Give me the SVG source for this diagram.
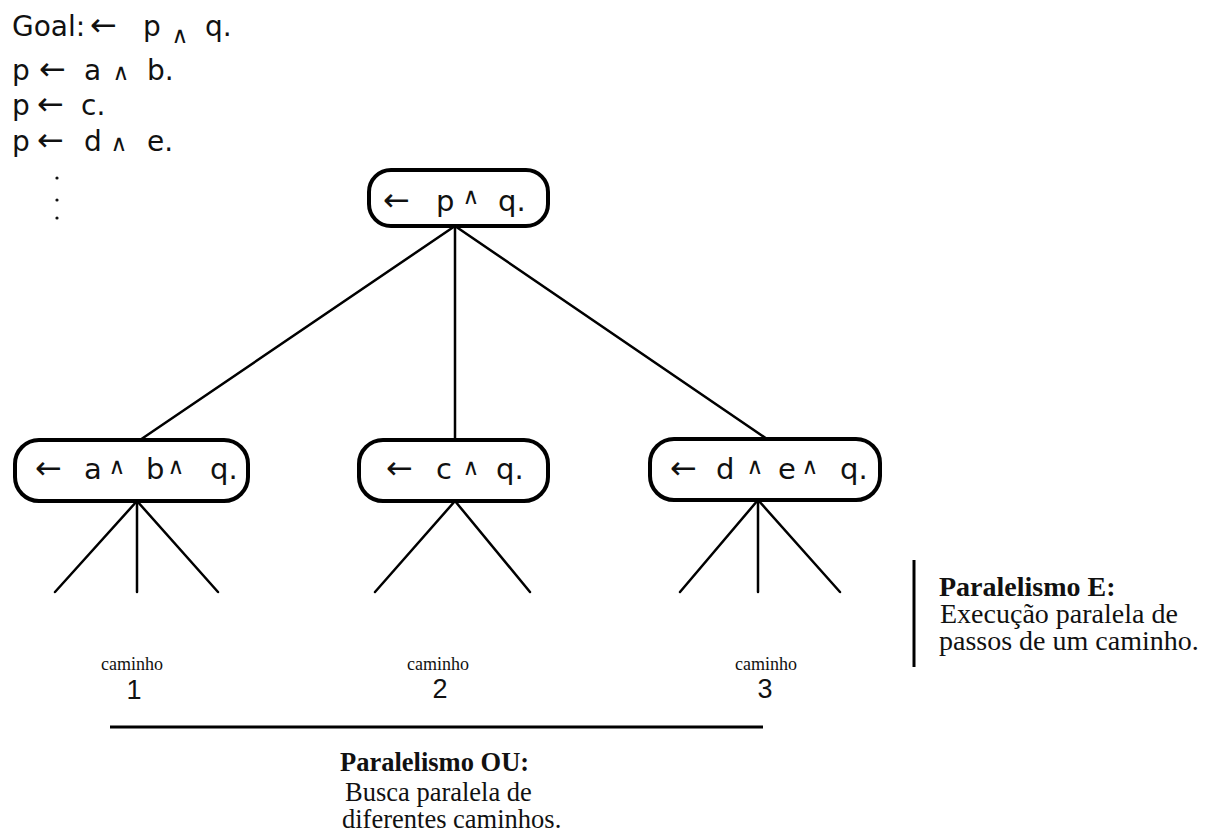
<svg xmlns="http://www.w3.org/2000/svg" width="1213" height="832" viewBox="0 0 1213 832">
  <style>
    .sans { font-family: "DejaVu Sans", "Liberation Sans", sans-serif; fill: #111; }
    .ar { font-family: "DejaVu Sans", sans-serif; font-size: 32px; }
    .op { font-family: "DejaVu Sans", sans-serif; fill: #111; font-size: 23px; text-anchor: middle; }
    .prog { font-size: 28px; }
    .goal { font-size: 29px; }
    .box { fill: #fff; stroke: #000; stroke-width: 4; }
    .edge { stroke: #000; stroke-width: 2.5; fill: none; stroke-linecap: round; }
    .rule { stroke: #000; stroke-width: 3; }
    .serif { font-family: "Liberation Serif", "Times New Roman", serif; fill: #111; }
    .lbl { font-size: 18px; text-anchor: middle; }
    .num { font-family: "Liberation Sans", sans-serif; font-size: 27px; text-anchor: middle; }
    .head { font-weight: bold; }
    .note { font-size: 26.5px; }
    .note-e { font-size: 28px; }
  </style>
  <rect width="1213" height="832" fill="#fff"/>

  <!-- program clauses -->
  <g id="program" class="sans prog">
    <text y="36"><tspan x="12">Goal:</tspan><tspan class="ar" x="90">←</tspan><tspan x="143">p</tspan><tspan x="205">q.</tspan></text>
    <text class="op" x="180" y="43">∧</text>
    <text y="80"><tspan x="12">p</tspan><tspan class="ar" x="39">←</tspan><tspan x="84">a</tspan><tspan x="147">b.</tspan></text>
    <text class="op" x="121" y="80">∧</text>
    <text y="115"><tspan x="12">p</tspan><tspan class="ar" x="37">←</tspan><tspan x="81">c.</tspan></text>
    <text y="151"><tspan x="12">p</tspan><tspan class="ar" x="37">←</tspan><tspan x="84">d</tspan><tspan x="147">e.</tspan></text>
    <text class="op" x="119" y="151">∧</text>
    <circle cx="57" cy="178" r="1.6" fill="#111"/>
    <circle cx="57" cy="200" r="1.6" fill="#111"/>
    <circle cx="57" cy="218" r="1.6" fill="#111"/>
  </g>

  <!-- tree edges -->
  <g id="connectors">
    <line class="edge" x1="455" y1="226" x2="140" y2="440"/>
    <line class="edge" x1="455" y1="226" x2="455" y2="440"/>
    <line class="edge" x1="455" y1="226" x2="767" y2="439"/>
    <line class="edge" x1="137" y1="501" x2="55" y2="592"/>
    <line class="edge" x1="137" y1="501" x2="137" y2="592"/>
    <line class="edge" x1="137" y1="501" x2="218" y2="592"/>
    <line class="edge" x1="455" y1="501" x2="375" y2="592"/>
    <line class="edge" x1="455" y1="501" x2="530" y2="592"/>
    <line class="edge" x1="758" y1="500" x2="680" y2="592"/>
    <line class="edge" x1="758" y1="500" x2="758" y2="592"/>
    <line class="edge" x1="758" y1="500" x2="840" y2="592"/>
  </g>

  <!-- root goal -->
  <g id="node-root">
    <rect class="box" x="369" y="170" width="179" height="56" rx="22"/>
    <text class="sans goal" y="211"><tspan class="ar" x="383">←</tspan><tspan x="436">p</tspan><tspan x="498">q.</tspan></text>
    <text class="op" x="471" y="204">∧</text>
  </g>

  <!-- resolvent with p ← a ∧ b -->
  <g id="node-ab">
    <rect class="box" x="15" y="440" width="233" height="61" rx="24"/>
    <text class="sans goal" y="479"><tspan class="ar" x="35">←</tspan><tspan x="84">a</tspan><tspan x="146">b</tspan><tspan x="210">q.</tspan></text>
    <text class="op" x="117" y="474">∧</text>
    <text class="op" x="176" y="474">∧</text>
  </g>

  <!-- resolvent with p ← c -->
  <g id="node-c">
    <rect class="box" x="359" y="440" width="189" height="61" rx="24"/>
    <text class="sans goal" y="479"><tspan class="ar" x="386">←</tspan><tspan x="436">c</tspan><tspan x="496">q.</tspan></text>
    <text class="op" x="471" y="475">∧</text>
  </g>

  <!-- resolvent with p ← d ∧ e -->
  <g id="node-de">
    <rect class="box" x="650" y="439" width="230" height="61" rx="24"/>
    <text class="sans goal" y="479"><tspan class="ar" x="670">←</tspan><tspan x="716">d</tspan><tspan x="778">e</tspan><tspan x="840">q.</tspan></text>
    <text class="op" x="755" y="474">∧</text>
    <text class="op" x="810" y="474">∧</text>
  </g>

  <!-- path labels -->
  <g id="path-1">
    <text class="serif lbl" x="132" y="670">caminho</text>
    <text class="sans num" x="134" y="699">1</text>
  </g>
  <g id="path-2">
    <text class="serif lbl" x="438" y="670">caminho</text>
    <text class="sans num" x="440" y="698">2</text>
  </g>
  <g id="path-3">
    <text class="serif lbl" x="766" y="670">caminho</text>
    <text class="sans num" x="765" y="698">3</text>
  </g>

  <!-- OR-parallelism note -->
  <g id="note-or">
    <line class="rule" x1="110" y1="727" x2="763" y2="727"/>
    <text class="serif head note" x="340" y="771">Paralelismo OU:</text>
    <text class="serif note" x="345" y="801">Busca paralela de</text>
    <text class="serif note" x="342" y="828">diferentes caminhos.</text>
  </g>

  <!-- AND-parallelism note -->
  <g id="note-and">
    <line class="rule" x1="914" y1="560" x2="914" y2="667"/>
    <text class="serif head note-e" x="939" y="596">Paralelismo E:</text>
    <text class="serif note-e" x="940" y="623">Execução paralela de</text>
    <text class="serif note-e" x="939" y="650">passos de um caminho.</text>
  </g>
</svg>
